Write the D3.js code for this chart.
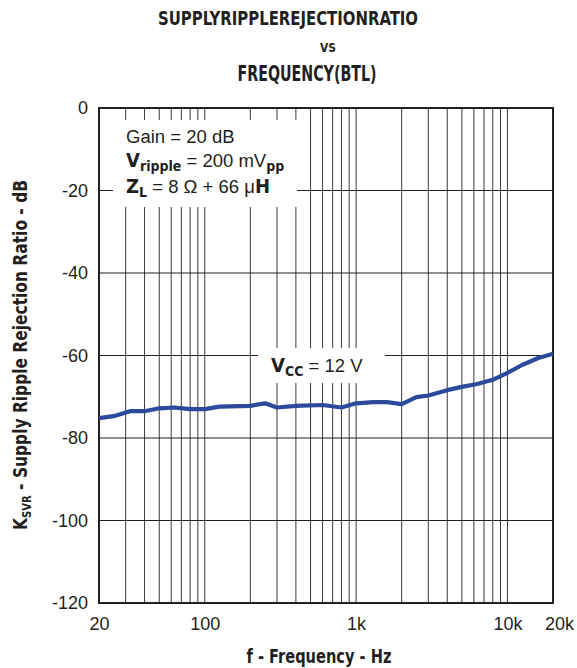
<!DOCTYPE html>
<html>
<head>
<meta charset="utf-8">
<script src="https://cdn.jsdelivr.net/npm/d3@7"></script>
<style>
  body { margin: 0; background: #fff; }
  svg { display: block; }
</style>
</head>
<body>
<div id="chart"></div>
<script>
// values
const freqs = [20, 25, 32, 40, 50, 63, 80, 100, 125, 200, 250, 300, 400, 600, 800,
  1000, 1300, 1600, 2000, 2500, 3000, 4000, 5000, 6300, 8000, 10000, 12500, 16000, 20000];
const ksvr = [-75.2, -74.7, -73.5, -73.5, -72.8, -72.6, -73.0, -73.0, -72.4, -72.2, -71.6, -72.6, -72.2, -72.0, -72.6,
  -71.6, -71.3, -71.3, -71.8, -70.1, -69.7, -68.4, -67.6, -66.9, -65.9, -64.2, -62.3, -60.6, -59.6];
const yTicks = [0, -20, -40, -60, -80, -100, -120];
const xTickVals = [20, 100, 1000, 10000, 20000];
const xTickText = ["20", "100", "1k", "10k", "20k"];
const gridFreqs = [30, 40, 50, 60, 70, 80, 90, 100, 200, 300, 400, 500, 600, 700, 800, 900,
  1000, 2000, 3000, 4000, 5000, 6000, 7000, 8000, 9000, 10000];

const width = 577, height = 668;
const margin = { left: 99, right: 24, top: 108, bottom: 65 };
const condensed = "'Liberation Sans Narrow', 'DejaVu Sans Condensed', sans-serif";
const regular = "'Liberation Sans', Arial, sans-serif";
const ink = "#231f20";

const svg = d3.select("#chart").append("svg")
  .attr("width", width)
  .attr("height", height);

const x = d3.scaleLog()
  .domain([20, 20000])
  .range([margin.left, width - margin.right]);

const y = d3.scaleLinear()
  .domain([-120, 0])
  .range([height - margin.bottom, margin.top]);

// grid
svg.append("g")
  .selectAll("line")
  .data(gridFreqs)
  .enter().append("line")
  .attr("x1", d => x(d)).attr("x2", d => x(d))
  .attr("y1", y(0)).attr("y2", y(-120))
  .style("stroke", "#3a3a3a")
  .style("stroke-width", 1);

svg.append("g")
  .selectAll("line")
  .data(yTicks.slice(1, -1))
  .enter().append("line")
  .attr("x1", x(20)).attr("x2", x(20000))
  .attr("y1", d => y(d)).attr("y2", d => y(d))
  .style("stroke", ink)
  .style("stroke-width", 1);

// white boxes behind annotations
svg.append("rect")
  .attr("x", 113).attr("y", 120).attr("width", 184).attr("height", 87)
  .style("fill", "#fff");
svg.append("rect")
  .attr("x", 258).attr("y", 348).attr("width", 127).attr("height", 35)
  .style("fill", "#fff");

// frame
svg.append("rect")
  .attr("x", x(20)).attr("y", y(0))
  .attr("width", x(20000) - x(20))
  .attr("height", y(-120) - y(0))
  .style("fill", "none")
  .style("stroke", ink)
  .style("stroke-width", 2);

// curve
const line = d3.line()
  .x((d, i) => x(freqs[i]))
  .y(d => y(d));

svg.append("path")
  .datum(ksvr)
  .attr("d", line)
  .style("fill", "none")
  .style("stroke", "#2b4a9b")
  .style("stroke-width", 4.2)
  .style("stroke-linejoin", "round");

// y axis
const yAxis = svg.append("g")
  .attr("transform", `translate(${x(20)},0)`)
  .call(d3.axisLeft(y).tickValues(yTicks).tickSize(0).tickPadding(11)
    .tickFormat(d => String(d).replace("\u2212", "-")));
yAxis.select(".domain").remove();
yAxis.selectAll("text")
  .style("font-family", regular)
  .style("font-size", "18px")
  .style("fill", ink);

// x axis
const xAxis = svg.append("g")
  .attr("transform", `translate(0,${y(-120)})`)
  .call(d3.axisBottom(x).tickValues(xTickVals).tickFormat((d, i) => xTickText[i]).tickSize(0).tickPadding(14));
xAxis.select(".domain").remove();
xAxis.selectAll("text")
  .style("font-family", regular)
  .style("font-size", "18px")
  .style("fill", ink)
  .attr("dx", (d, i) => i === xTickVals.length - 1 ? 6 : 0);

// titles (squeezed to the narrow bold face of the original)
const titles = [
  { text: "SUPPLYRIPPLEREJECTIONRATIO", x: 288, y: 25, size: 20, len: 260 },
  { text: "VS", x: 328, y: 52, size: 13, len: 16 },
  { text: "FREQUENCY(BTL)", x: 307, y: 81, size: 21, len: 139 }
];
svg.selectAll(".title")
  .data(titles)
  .enter().append("text")
  .attr("class", "title")
  .attr("x", d => d.x)
  .attr("y", d => d.y)
  .attr("text-anchor", "middle")
  .attr("textLength", d => d.len)
  .attr("lengthAdjust", "spacingAndGlyphs")
  .style("font-family", condensed)
  .style("font-weight", "bold")
  .style("font-size", d => d.size + "px")
  .style("fill", ink)
  .text(d => d.text);

svg.append("text")
  .attr("x", 319)
  .attr("y", 663)
  .attr("text-anchor", "middle")
  .attr("textLength", 145)
  .attr("lengthAdjust", "spacingAndGlyphs")
  .style("font-family", condensed)
  .style("font-weight", "bold")
  .style("font-size", "20px")
  .style("fill", ink)
  .text("f - Frequency - Hz");

const yLabel = svg.append("text")
  .attr("transform", "translate(27,355) rotate(-90)")
  .attr("text-anchor", "middle")
  .attr("textLength", 350)
  .attr("lengthAdjust", "spacingAndGlyphs")
  .style("font-family", condensed)
  .style("font-weight", "bold")
  .style("font-size", "20px")
  .style("fill", ink);
yLabel.append("tspan").text("K");
yLabel.append("tspan").attr("dy", 4).style("font-size", "13px").text("SVR");
yLabel.append("tspan").attr("dy", -4).text("  - Supply Ripple Rejection Ratio - dB");

// annotations
const note = svg.append("g")
  .style("font-size", "18.5px")
  .style("fill", ink);

function bold(t, s, size, dy) {
  return t.append("tspan")
    .attr("dy", dy)
    .style("font-family", condensed)
    .style("font-weight", "bold")
    .style("font-size", size + "px")
    .text(s);
}

note.append("text")
  .attr("x", 126).attr("y", 143)
  .style("font-family", regular)
  .text("Gain = 20 dB");

const t2 = note.append("text").attr("x", 126).attr("y", 167).style("font-family", regular);
bold(t2, "V", 20, 0);
bold(t2, "ripple", 14, 4);
t2.append("tspan").attr("dy", -4).text(" = 200 mV");
bold(t2, "pp", 14, 4);

const t3 = note.append("text").attr("x", 126).attr("y", 193).style("font-family", regular);
bold(t3, "Z", 20, 0);
bold(t3, "L", 14, 4);
t3.append("tspan").attr("dy", -4).text(" = 8 \u03A9 + 66 \u03BC");
bold(t3, "H", 20, 0);

const t4 = note.append("text").attr("x", 271).attr("y", 372).style("font-family", regular);
bold(t4, "V", 20, 0);
bold(t4, "CC", 14, 4);
t4.append("tspan").attr("dy", -4).text("  = 12 V");
</script>
</body>
</html>
